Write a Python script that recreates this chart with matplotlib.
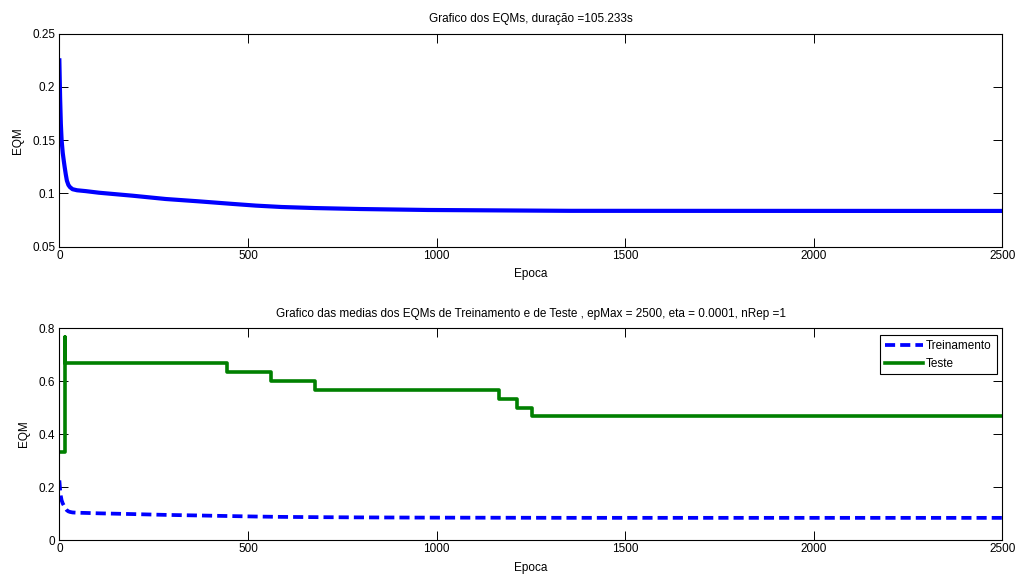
import matplotlib
matplotlib.use("Agg")
import matplotlib.pyplot as plt

plt.rcParams['font.family'] = ['Liberation Sans', 'DejaVu Sans']
plt.rcParams['font.size'] = 8.5

# Mean squared error of the training set per epoch
train_epochs = [0, 2, 4, 6, 9, 12, 14, 17, 20, 24, 28, 35, 47, 70, 105, 194, 282,
                370, 459, 521, 589, 678, 797, 977, 1354, 2500]
train_eqm = [0.225, 0.190, 0.165, 0.150, 0.138, 0.130, 0.125, 0.118, 0.112, 0.108,
             0.106, 0.104, 0.1030, 0.1022, 0.1007, 0.0979, 0.0948, 0.0926, 0.0902,
             0.0886, 0.0873, 0.0863, 0.0854, 0.0845, 0.0837, 0.0836]

# Mean squared error of the test set (piecewise constant)
test_epochs = [0, 14, 15, 444, 560, 678, 1165, 1212, 1252, 2500]
test_eqm = [0.333, 0.767, 0.667, 0.633, 0.600, 0.567, 0.533, 0.500, 0.467, 0.467]

x_ticks = [0, 500, 1000, 1500, 2000, 2500]
top_yticks = [0.05, 0.1, 0.15, 0.2, 0.25]
bottom_yticks = [0, 0.2, 0.4, 0.6, 0.8]

top_title = "Grafico dos EQMs, duração =105.233s"
bottom_title = ("Grafico das medias dos EQMs de Treinamento e de Teste , "
                "epMax = 2500, eta = 0.0001, nRep =1")

fig = plt.figure(figsize=(10.18, 5.77), dpi=100)
ax1 = fig.add_axes([0.0583, 0.5724, 0.9263, 0.3692])
ax2 = fig.add_axes([0.0583, 0.0641, 0.9263, 0.3674])


def style_axes(ax, yticks, ylim):
    ax.set_xlim(0, 2500)
    ax.set_ylim(*ylim)
    ax.set_xticks(x_ticks)
    ax.set_yticks(yticks)
    ax.set_yticklabels([f"{v:g}" for v in yticks])
    ax.tick_params(direction='in', length=6.5, width=0.7, top=True, right=True,
                   colors='black', labelsize=8.5)
    ax.tick_params(axis='x', pad=2.5)
    ax.tick_params(axis='y', pad=3)
    for s in ax.spines.values():
        s.set_linewidth(0.8)
        s.set_color('black')
    ax.set_xlabel("Epoca", labelpad=4.5)
    ax.set_ylabel("EQM", labelpad=6)


ax1.plot(train_epochs, train_eqm, color='#0000ff', lw=3, solid_joinstyle='round')
style_axes(ax1, top_yticks, (0.05, 0.25))
ax1.set_title(top_title, fontsize=8.5, pad=8.5)

ax2.plot(train_epochs, train_eqm, color='#0000ff', lw=2.7, dashes=(2.7, 1.35),
         label='Treinamento')
ax2.plot(test_epochs, test_eqm, color='#008000', lw=2.6, drawstyle='steps-post',
         label='Teste')
style_axes(ax2, bottom_yticks, (0, 0.8))
ax2.set_title(bottom_title, fontsize=8.5, pad=8)

leg = ax2.legend(loc='upper right', bbox_to_anchor=(0.994, 0.967), borderaxespad=0,
                 fancybox=False, edgecolor='black', framealpha=1,
                 handlelength=3.2, handletextpad=0.3, fontsize=8.5)
leg.get_frame().set_linewidth(0.8)

fig.savefig("out.png", dpi=100)
